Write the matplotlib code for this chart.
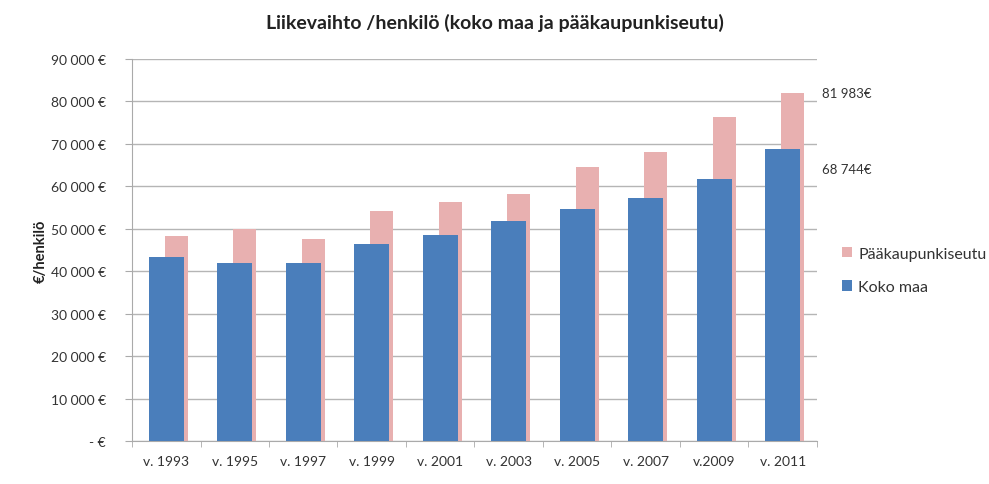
import matplotlib
matplotlib.use("Agg")
import matplotlib.pyplot as plt
import numpy as np

categories = ["v. 1993", "v. 1995", "v. 1997", "v. 1999", "v. 2001",
              "v. 2003", "v. 2005", "v. 2007", "v.2009", "v. 2011"]
koko_maa = [43400, 42000, 42000, 46500, 48600, 51900, 54700, 57300, 61800, 68744]
paakaupunkiseutu = [48300, 50000, 47600, 54200, 56400, 58300, 64600, 68200, 76400, 81983]
yticks = [0, 10000, 20000, 30000, 40000, 50000, 60000, 70000, 80000, 90000]
ytick_labels = ["- €", "10 000 €", "20 000 €", "30 000 €", "40 000 €", "50 000 €",
                "60 000 €", "70 000 €", "80 000 €", "90 000 €"]

plt.rcParams['font.family'] = ['Lato', 'DejaVu Sans']

fig = plt.figure(figsize=(9.89, 4.85), dpi=100)
ax = fig.add_axes([0.1335, 0.0887, 0.6925, 0.7876])

x = np.arange(len(categories))
blue = "#4a7ebb"
pink = "#e8b0b0"
ax.bar(x + 0.146, paakaupunkiseutu, width=0.335, color=pink, zorder=2,
       label="Pääkaupunkiseutu")
ax.bar(x, koko_maa, width=0.51, color=blue, zorder=3, label="Koko maa")

ax.set_xlim(-0.5, len(categories) - 0.5)
ax.set_ylim(0, 90000)
ax.set_yticks(yticks)
ax.set_yticklabels(ytick_labels, fontsize=10, color="#333333")
ax.set_xticks(x)
ax.set_xticklabels(categories, fontsize=10, color="#333333")
ax.set_xticks(np.arange(len(categories) + 1) - 0.5, minor=True)
ax.tick_params(axis='x', which='major', length=0, pad=10)
ax.tick_params(axis='x', which='minor', length=4, color="#aaaaaa", direction='out')
ax.tick_params(axis='y', length=5, color="#aaaaaa", pad=14)
ax.yaxis.grid(True, color="#b5b5b5", linewidth=1, zorder=0)
ax.set_axisbelow(True)
for s in ["top", "right"]:
    ax.spines[s].set_visible(False)
for s in ["left", "bottom"]:
    ax.spines[s].set_color("#aaaaaa")

ax.set_ylabel("€/henkilö", fontsize=10.5, fontweight='bold', labelpad=2, color="#222222")
fig.text(0.5, 0.952, "Liikevaihto /henkilö (koko maa ja pääkaupunkiseutu)",
         ha='center', va='center', fontsize=14, fontweight='bold', color="#222222")

ax.annotate("81 983€", xy=(len(categories) - 0.5, paakaupunkiseutu[-1]),
            xytext=(4, 0), textcoords='offset points', va='center', ha='left',
            fontsize=9.5, color="#333333", annotation_clip=False)
ax.annotate("68 744€", xy=(len(categories) - 0.5, koko_maa[-1]),
            xytext=(4, -14), textcoords='offset points', va='center', ha='left',
            fontsize=9.5, color="#333333", annotation_clip=False)

handles, labels = ax.get_legend_handles_labels()
leg = fig.legend(handles, labels, loc='center left', bbox_to_anchor=(0.837, 0.44),
                 frameon=False, fontsize=11.5, handlelength=0.6, handleheight=0.6,
                 labelspacing=1.2, handletextpad=0.4)
for t in leg.get_texts():
    t.set_color("#333333")

fig.savefig("out.png", dpi=100)
